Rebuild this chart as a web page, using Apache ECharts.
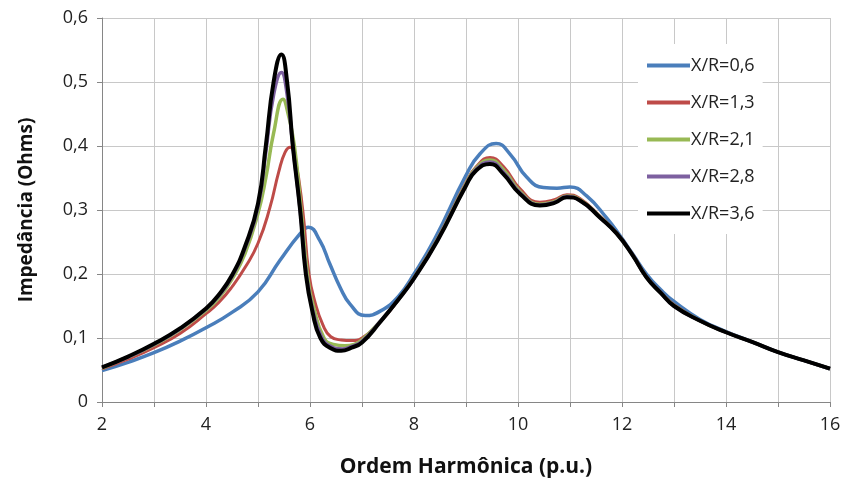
<!DOCTYPE html>
<html>
<head>
<meta charset="utf-8">
<script src="https://cdn.jsdelivr.net/npm/echarts@6/dist/echarts.min.js"></script>
<style>
  html, body { margin: 0; padding: 0; background: #fff; }
  #chart { width: 845px; height: 493px; }
</style>
</head>
<body>
<div id="chart"></div>
<script>
// x/R ratios shown in the legend
const seriesNames = ['X/R=0,6', 'X/R=1,3', 'X/R=2,1', 'X/R=2,8', 'X/R=3,6']
const seriesColors = ['#4a7ebb', '#be4b48', '#98b954', '#7d60a0', '#000000']

const yTickLabels = ['0', '0,1', '0,2', '0,3', '0,4', '0,5', '0,6']
const xTickLabels = ['2', '4', '6', '8', '10', '12', '14', '16']

// [harmonic order, impedance]
const xr06 = [[2,0.049],[2.5,0.062],[3,0.077],[3.5,0.095],[4,0.116],[4.5,0.14],[5,0.172],[5.42,0.221],[5.81,0.263],[5.97,0.273],[6.19,0.252],[6.38,0.216],[6.58,0.179],[6.77,0.153],[7.06,0.135],[7.35,0.142],[7.7,0.165],[8,0.2],[8.4,0.255],[9,0.354],[9.27,0.388],[9.58,0.404],[9.85,0.387],[10.17,0.351],[10.49,0.335],[10.75,0.334],[11,0.336],[11.32,0.322],[11.7,0.288],[11.96,0.26],[12.2,0.232],[12.47,0.2],[12.75,0.175],[13,0.157],[13.5,0.129],[14,0.11],[14.5,0.094],[15,0.078],[15.5,0.065],[16,0.052]]
const xr13 = [[2,0.052],[2.5,0.067],[3,0.085],[3.5,0.107],[4,0.138],[4.25,0.156],[4.5,0.18],[4.75,0.21],[5,0.248],[5.23,0.304],[5.4,0.36],[5.52,0.39],[5.62,0.398],[5.72,0.378],[5.86,0.3],[5.98,0.2],[6.1,0.155],[6.25,0.12],[6.4,0.102],[6.6,0.097],[6.8,0.096],[7,0.1],[7.35,0.125],[7.7,0.16],[8,0.195],[8.45,0.255],[9,0.343],[9.2,0.368],[9.46,0.382],[9.72,0.368],[10.04,0.333],[10.42,0.312],[10.7,0.316],[10.94,0.324],[11.19,0.318],[11.58,0.29],[11.9,0.264],[12.2,0.231],[12.47,0.196],[12.75,0.171],[13,0.152],[13.5,0.127],[14,0.109],[14.5,0.094],[15,0.078],[15.5,0.065],[16,0.052]]
const xr21 = [[2,0.053],[2.5,0.07],[3,0.089],[3.5,0.113],[4,0.143],[4.25,0.163],[4.5,0.192],[4.75,0.232],[5,0.295],[5.15,0.35],[5.3,0.42],[5.48,0.473],[5.58,0.45],[5.7,0.4],[5.83,0.3],[5.95,0.2],[6.08,0.145],[6.27,0.1],[6.45,0.09],[6.67,0.088],[6.85,0.09],[7,0.097],[7.35,0.126],[7.7,0.16],[8,0.194],[8.45,0.254],[9,0.341],[9.2,0.366],[9.46,0.378],[9.72,0.363],[10.04,0.329],[10.42,0.309],[10.7,0.313],[10.94,0.322],[11.19,0.316],[11.58,0.289],[11.9,0.263],[12.2,0.23],[12.47,0.195],[12.75,0.17],[13,0.151],[13.5,0.127],[14,0.109],[14.5,0.094],[15,0.078],[15.5,0.065],[16,0.052]]
const xr28 = [[2,0.054],[2.5,0.07],[3,0.09],[3.5,0.114],[4,0.145],[4.25,0.166],[4.5,0.196],[4.75,0.24],[5,0.305],[5.15,0.39],[5.3,0.48],[5.45,0.515],[5.56,0.48],[5.67,0.4],[5.81,0.3],[5.93,0.2],[6.05,0.145],[6.22,0.102],[6.4,0.087],[6.62,0.083],[6.8,0.087],[7,0.095],[7.35,0.126],[7.7,0.16],[8,0.193],[8.45,0.253],[9,0.339],[9.2,0.364],[9.46,0.375],[9.72,0.359],[10.04,0.327],[10.42,0.308],[10.7,0.312],[10.94,0.321],[11.19,0.315],[11.58,0.288],[11.9,0.263],[12.2,0.23],[12.47,0.195],[12.75,0.17],[13,0.15],[13.5,0.127],[14,0.109],[14.5,0.094],[15,0.078],[15.5,0.065],[16,0.052]]
const xr36 = [[2,0.054],[2.5,0.071],[3,0.091],[3.5,0.115],[4,0.146],[4.25,0.168],[4.5,0.198],[4.75,0.243],[5,0.31],[5.15,0.4],[5.3,0.5],[5.45,0.543],[5.56,0.5],[5.67,0.4],[5.81,0.3],[5.92,0.2],[6.05,0.14],[6.2,0.1],[6.4,0.084],[6.6,0.08],[6.8,0.085],[7,0.093],[7.35,0.125],[7.7,0.16],[8,0.193],[8.45,0.252],[9,0.338],[9.2,0.362],[9.46,0.372],[9.72,0.356],[10.04,0.325],[10.42,0.307],[10.7,0.311],[10.94,0.32],[11.19,0.315],[11.58,0.288],[11.9,0.263],[12.2,0.23],[12.47,0.195],[12.75,0.17],[13,0.15],[13.5,0.127],[14,0.109],[14.5,0.094],[15,0.078],[15.5,0.065],[16,0.052]]

const seriesData = [xr06, xr13, xr21, xr28, xr36]
const lineWidths = [3.5, 3, 3.5, 3.5, 4]

const font = "'Open Sans', sans-serif"
const chart = echarts.init(document.getElementById('chart'), null, { renderer: 'canvas' })

const option = {
  animation: false,
  textStyle: { fontFamily: font },
  grid: { left: 102, right: 15, top: 18, bottom: 91 },
  legend: {
    orient: 'vertical',
    left: 638,
    top: 44,
    backgroundColor: '#fff',
    padding: [9, 8, 8, 9],
    icon: 'rect',
    itemWidth: 43,
    itemHeight: 4,
    itemGap: 12,
    textStyle: { fontFamily: font, fontSize: 18, color: '#222', lineHeight: 25, padding: [0, 0, 0, -4] },
    data: seriesNames,
  },
  xAxis: {
    type: 'value',
    min: 2,
    max: 16,
    interval: 1,
    name: 'Ordem Harmônica (p.u.)',
    nameLocation: 'middle',
    nameGap: 55,
    nameTextStyle: { fontFamily: font, fontSize: 21, fontWeight: 'bold', color: '#111' },
    axisLine: { lineStyle: { color: '#868686', width: 1 } },
    axisTick: { length: 5, lineStyle: { color: '#868686' } },
    axisLabel: {
      fontSize: 18, color: '#222', margin: 14,
      formatter: (v) => (v % 2 === 0 ? xTickLabels[(v - 2) / 2] : ''),
    },
    splitLine: { lineStyle: { color: '#c8c8c8', width: 1 } },
  },
  yAxis: {
    type: 'value',
    min: 0,
    max: 0.6,
    interval: 0.1,
    name: 'Impedância (Ohms)',
    nameLocation: 'middle',
    nameGap: 66,
    nameTextStyle: { fontFamily: font, fontSize: 19, fontWeight: 'bold', color: '#111' },
    axisLine: { show: true, lineStyle: { color: '#868686', width: 1 } },
    axisTick: { show: true, length: 5, lineStyle: { color: '#868686' } },
    axisLabel: {
      fontSize: 18, color: '#222', margin: 14,
      formatter: (v) => yTickLabels[Math.round(v * 10)],
    },
    splitLine: { lineStyle: { color: '#c8c8c8', width: 1 } },
  },
  series: seriesData.map((d, i) => ({
    name: seriesNames[i],
    type: 'line',
    data: d,
    smooth: 0.5,
    symbol: 'none',
    z: 2 + i,
    lineStyle: { color: seriesColors[i], width: lineWidths[i] },
    itemStyle: { color: seriesColors[i] },
  })),
}

chart.setOption(option)
</script>
</body>
</html>
